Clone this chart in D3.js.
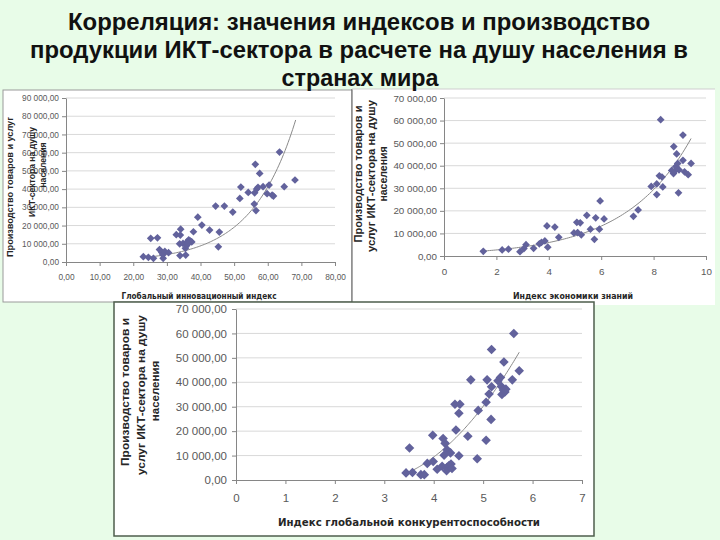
<!DOCTYPE html>
<html><head><meta charset="utf-8">
<script src="https://cdn.jsdelivr.net/npm/d3@7/dist/d3.min.js"></script>
<style>
html,body{margin:0;padding:0;background:#e8fce8;}
svg{display:block;}
</style></head>
<body>
<svg id="c" width="720" height="540"></svg>
<script>
// ---------- DATA ----------
const titleLines = [
  "Корреляция: значения индексов и производство",
  "продукции ИКТ-сектора в расчете на душу населения в",
  "странах мира"
];

// Panel 1: Global Innovation Index vs ICT output per capita
const giiPoints = [[23.0,2900],[24.5,2600],[26.0,2000],[25.2,13000],[27.2,13300],[27.8,6800],[28.5,5200],[28.9,2000],[28.8,4000],[29.4,5800],[30.5,5100],[32.8,15000],[34.1,18000],[34.0,14800],[33.9,3500],[33.8,10000],[34.8,10200],[35.6,3800],[35.5,7500],[35.9,9000],[36.0,11000],[36.5,12200],[37.0,11500],[37.4,11000],[36.3,10200],[37.9,16600],[39.2,24600],[40.4,20300],[42.7,17500],[44.5,30700],[45.6,16400],[45.3,8300],[47.1,30700],[49.6,27400],[51.7,34900],[52.0,41100],[54.2,38200],[56.3,53600],[57.6,48600],[56.1,38000],[56.7,40000],[57.1,41000],[56.0,31800],[56.5,28200],[58.6,41300],[60.4,42200],[59.8,37500],[61.3,36700],[61.7,36200],[63.5,60300],[64.9,41300],[68.1,45000]];
const giiXTicks = [0,10,20,30,40,50,60,70,80];
const giiYTicks = [0,10000,20000,30000,40000,50000,60000,70000,80000,90000];
const giiTrend = [408, 0.0769, 23.0, 68.3];      // exponential a*e^(b*x), from, to

// Panel 2: Knowledge Economy Index
const keiPoints = [[1.50,2100],[2.22,2700],[2.46,3000],[2.90,1900],[3.05,3300],[3.13,5000],[3.42,3400],[3.64,5400],[3.72,6000],[3.85,6700],[3.93,13300],[3.96,3900],[4.23,12800],[4.38,8300],[4.96,10200],[5.07,14900],[5.10,10400],[5.20,14700],[5.24,9400],[5.45,18000],[5.59,11900],[5.74,7400],[5.79,16900],[5.93,11900],[5.96,24400],[6.11,16400],[7.23,17600],[7.41,20400],[7.91,30800],[8.12,31900],[8.12,27200],[8.22,35500],[8.27,60400],[8.32,35000],[8.35,30600],[8.69,37900],[8.77,48500],[8.76,36500],[8.80,37500],[8.85,39600],[8.88,45200],[8.92,41000],[8.97,38200],[8.95,28000],[9.12,53600],[9.12,42400],[9.18,37300],[9.32,36000],[9.43,41000]];
const keiXTicks = [0,2,4,6,8,10];
const keiYTicks = [0,10000,20000,30000,40000,50000,60000,70000];
const keiTrend = [1209, 0.399, 1.5, 9.43];       // exponential

// Panel 3: Global Competitiveness Index
const gciPoints = [[3.44,2900],[3.57,3100],[3.51,13100],[3.74,2200],[3.81,2200],[3.87,6800],[3.99,7600],[3.98,18300],[4.07,4400],[4.17,5600],[4.19,17000],[4.23,15000],[4.26,3800],[4.27,5200],[4.31,5900],[4.35,6500],[4.37,4700],[4.21,10100],[4.27,12400],[4.34,11100],[4.45,20500],[4.43,31000],[4.53,31000],[4.51,27300],[4.51,9900],[4.69,17900],[4.75,41000],[4.90,28500],[4.88,8700],[5.06,31800],[5.06,16300],[5.08,41000],[5.12,35200],[5.16,24800],[5.17,38200],[5.17,53400],[5.30,40600],[5.35,42000],[5.37,38300],[5.38,35000],[5.41,36800],[5.44,36000],[5.46,37200],[5.42,48300],[5.59,41000],[5.62,60000],[5.73,44700]];
const gciXTicks = [0,1,2,3,4,5,6,7];
const gciYTicks = [0,10000,20000,30000,40000,50000,60000,70000];
const gciTrend = [5550, -29206, 37432, 3.44, 5.73]; // quadratic A x^2 + B x + C, from, to

const giiXTitle = "Глобальный инновационный индекс";
const keiXTitle = "Индекс экономики знаний";
const gciXTitle = "Индекс глобальной конкурентоспособности";
const giiYTitle = ["Производство товаров и услуг","ИКТ-сектора на душу","населения"];
const keiYTitle = ["Производство товаров и","услуг ИКТ-сектора на душу","населения"];
const gciYTitle = ["Производство товаров и","услуг ИКТ-сектора на душу","населения"];

// ---------- DRAW ----------
const svg = d3.select("#c");
const loc = d3.formatLocale({decimal:",", thousands:"\u00a0", grouping:[3], currency:["",""]});
const yFmt = loc.format(",.2f");
const x2Fmt = loc.format(".2f");
const intFmt = d3.format("d");

const MARK = "#62629c";
const TICKC = "#595959";
const AXC = "#868686";
const GRID = "#d9d9d9";

// panel boxes
svg.append("rect").attr("x",3).attr("y",90).attr("width",349).attr("height",212)
  .attr("fill","#fff").attr("stroke","#9a9a9a").attr("stroke-width",1);
svg.append("rect").attr("x",352).attr("y",89).attr("width",363).attr("height",216)
  .attr("fill","#fff").attr("stroke","none");
svg.append("line").attr("x1",352).attr("x2",352).attr("y1",89).attr("y2",302).attr("stroke","#555").attr("stroke-width",1);
svg.append("line").attr("x1",352).attr("x2",715).attr("y1",89).attr("y2",89).attr("stroke","#cfcfcf").attr("stroke-width",1);

function drawPanel(cfg){
  const g = svg.append("g");
  const x = d3.scaleLinear().domain(cfg.xDomain).range(cfg.xRange);
  const y = d3.scaleLinear().domain(cfg.yDomain).range(cfg.yRange);

  g.selectAll("line.grid").data(cfg.yTicks.filter(v=>v>0)).join("line")
    .attr("class","grid")
    .attr("x1",cfg.xRange[0]).attr("x2",cfg.xRange[1])
    .attr("y1",d=>y(d)).attr("y2",d=>y(d))
    .attr("stroke",GRID).attr("stroke-width",1);

  const xa = g.append("g").attr("transform",`translate(0,${cfg.yRange[0]})`)
    .call(d3.axisBottom(x).tickValues(cfg.xTicks).tickFormat(cfg.xFmt)
      .tickSizeInner(4).tickSizeOuter(0).tickPadding(cfg.xPad));
  const ya = g.append("g").attr("transform",`translate(${cfg.xRange[0]},0)`)
    .call(d3.axisLeft(y).tickValues(cfg.yTicks).tickFormat(yFmt)
      .tickSizeInner(4).tickSizeOuter(0).tickPadding(cfg.yPad));
  [xa,ya].forEach(a=>{
    a.select(".domain").attr("stroke",AXC);
    a.selectAll(".tick line").attr("stroke",AXC);
    a.selectAll("text").attr("fill",TICKC)
      .style("font-family","'Liberation Sans',Arial,sans-serif")
      .style("font-size",cfg.tickSize+"px");
  });

  // trend line
  const tr = cfg.trend;
  const xs = d3.range(0,101).map(i=>cfg.trendFrom + (cfg.trendTo-cfg.trendFrom)*i/100);
  g.append("path").datum(xs)
    .attr("d", d3.line().x(v=>x(v)).y(v=>y(tr(v))))
    .attr("fill","none").attr("stroke","#8a8a8a").attr("stroke-width",1);

  // points (diamonds)
  const sym = d3.symbol().type(d3.symbolSquare).size(cfg.markArea);
  g.selectAll("path.pt").data(cfg.points).join("path")
    .attr("class","pt")
    .attr("d",sym)
    .attr("transform",d=>`translate(${x(d[0])},${y(d[1])}) rotate(45)`)
    .attr("fill",MARK);

  // x title
  g.append("text").attr("x",cfg.xTitlePos[0]).attr("y",cfg.xTitlePos[1])
    .attr("text-anchor","middle")
    .attr("textLength",cfg.xTitlePos[2]).attr("lengthAdjust","spacingAndGlyphs")
    .style("font-family","'DejaVu Sans',Verdana,sans-serif").style("font-weight","bold")
    .style("font-size",cfg.xTitleSize+"px").attr("fill","#262626")
    .text(cfg.xTitle);

  // y title lines
  cfg.yTitle.forEach((t,i)=>{
    const p = cfg.yTitlePos[i];
    const tx = g.append("text").attr("transform",`translate(${p[0]},${p[1]}) rotate(-90)`)
      .attr("text-anchor","middle").attr("dominant-baseline","central")
      .style("font-family","'Liberation Sans',Arial,sans-serif").style("font-weight","bold")
      .style("font-size",p[3]+"px").attr("fill","#262626")
      .text(t);
    if (p[2]) tx.attr("textLength",p[2]).attr("lengthAdjust","spacingAndGlyphs");
  });
}

const expF = t => v => t[0]*Math.exp(t[1]*v);

drawPanel({
  points: giiPoints, xDomain:[0,80], yDomain:[0,90000], xRange:[66,335], yRange:[262,98],
  xTicks: giiXTicks, yTicks: giiYTicks, xFmt: x2Fmt, xPad: 8, yPad: 3, tickSize: 8.3,
  trend: expF(giiTrend), trendFrom: giiTrend[2], trendTo: giiTrend[3], markArea: 30,
  xTitle: giiXTitle, xTitlePos:[199,299,155], xTitleSize:8,
  yTitle: giiYTitle, yTitlePos:[[10,187,140,8.6],[32,172,0,8.6],[43,165,0,8.6]]
});
drawPanel({
  points: keiPoints, xDomain:[0,10], yDomain:[0,70000], xRange:[444,706], yRange:[256,98],
  xTicks: keiXTicks, yTicks: keiYTicks, xFmt: intFmt, xPad: 8.5, yPad: 3, tickSize: 9.8,
  trend: expF(keiTrend), trendFrom: keiTrend[2], trendTo: keiTrend[3], markArea: 30,
  xTitle: keiXTitle, xTitlePos:[573,299,120], xTitleSize:8.5,
  yTitle: keiYTitle, yTitlePos:[[358,174,137,10.5],[371,176,152,10.5],[383,174,0,10.5]]
});

// panel 3 box (on top)
svg.append("rect").attr("x",114).attr("y",302).attr("width",480).attr("height",234)
  .attr("fill","#fff").attr("stroke","#4e5e4c").attr("stroke-width",1.5);

drawPanel({
  points: gciPoints, xDomain:[0,7], yDomain:[0,70000], xRange:[236,582], yRange:[480,309],
  xTicks: gciXTicks, yTicks: gciYTicks, xFmt: intFmt, xPad: 10, yPad: 5, tickSize: 11.5,
  trend: v => gciTrend[0]*v*v + gciTrend[1]*v + gciTrend[2], trendFrom: gciTrend[3], trendTo: gciTrend[4], markArea: 46,
  xTitle: gciXTitle, xTitlePos:[409,526,262], xTitleSize:10.5,
  yTitle: gciYTitle, yTitlePos:[[125,392,148,11.5],[141,395,160,11.5],[155,391,0,11.5]]
});

// title
const titleGeom = [[359,30,582],[359,58,658],[360,86,157]];
titleLines.forEach((t,i)=>{
  svg.append("text").attr("x",titleGeom[i][0]).attr("y",titleGeom[i][1])
    .attr("text-anchor","middle")
    .attr("textLength",titleGeom[i][2]).attr("lengthAdjust","spacingAndGlyphs")
    .style("font-family","'Liberation Sans',Arial,sans-serif").style("font-weight","bold")
    .style("font-size","24.5px").attr("fill","#111")
    .text(t);
});
</script>
</body></html>
